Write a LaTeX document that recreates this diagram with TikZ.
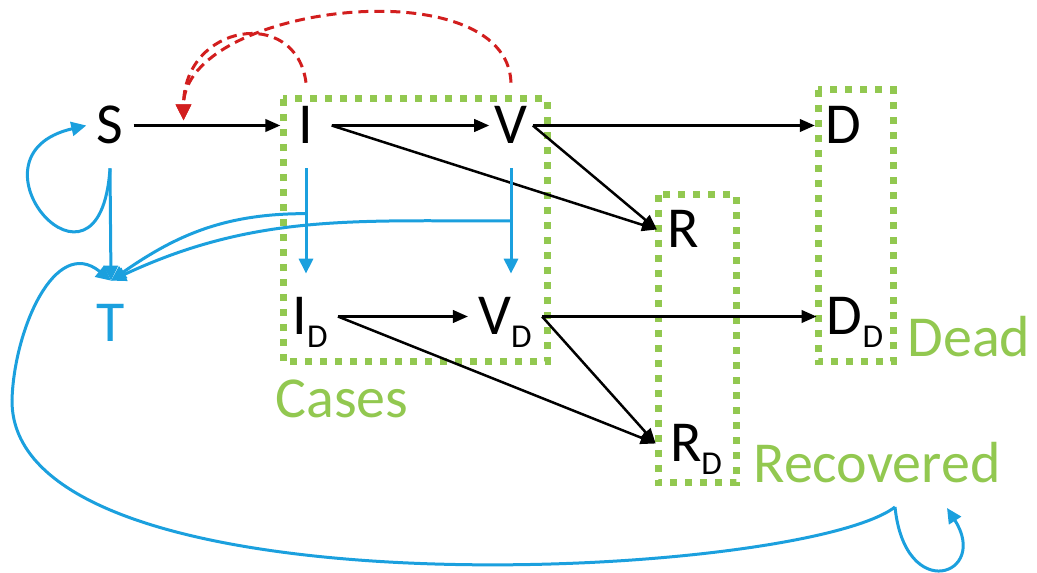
\documentclass[tikz,border=0pt]{standalone}
\usepackage{fontspec}
\setmainfont{Carlito}
\usetikzlibrary{calc,arrows.meta}
\definecolor{boxgreen}{RGB}{146,200,80}
\definecolor{testblue}{RGB}{27,160,222}
\definecolor{ctrlred}{RGB}{210,30,30}
\newcommand{\sbD}{\raisebox{-0.26cm}[0pt][0pt]{\fontsize{19pt}{19pt}\selectfont D}}
\tikzstyle{state}=[inner xsep=0.2cm, inner ysep=0.48cm, text height=0.74cm, text depth=0pt, anchor=base, font=\fontsize{33pt}{36pt}\selectfont]
\tikzstyle{grp}=[boxgreen, line width=0.14cm, dash pattern=on 0.14cm off 0.16cm]
\tikzstyle{lbl}=[boxgreen, inner sep=0pt, anchor=base, font=\fontsize{33pt}{36pt}\selectfont]
\tikzstyle{flow}=[line width=0.05cm, -{Triangle[length=0.3cm,width=0.25cm]}]
\tikzstyle{test}=[testblue, line width=0.06cm, -{Triangle[length=0.3cm,width=0.28cm]}]
\tikzstyle{ctrl}=[ctrlred, line width=0.06cm, dash pattern=on 0.2cm off 0.12cm, -{Triangle[length=0.32cm,width=0.3cm]}]

\begin{document}
\begin{tikzpicture}[x=0.02cm, y=-0.02cm]
		\useasboundingbox (0,0) rectangle (1037,573);
		%\draw[help lines, step=50] (0,0) grid (1037,573);
		
		\draw[grp] (283,99) rectangle (547,362);%cases
		\draw[grp] (818,90) rectangle (893,362);%dead
		\draw[grp] (658,195) rectangle (736,483);%recovered
		
		\node[state] (S) at (110,144) {S};
		\node[state, inner xsep=0.36cm] (I) at (306,144) {I};
		\node[state, inner xsep=0.1cm] (V) at (511,144) {V};
		\node[state] (D) at (843,144) {D};
		\node[state] (R) at (683,248) {R};
		\node[state, testblue] (T) at (111,342) {T};
		\node[state] (ID) at (310,335) {I\sbD};
		\node[state] (VD) at (505,335) {V\sbD};
		\node[state] (DD) at (855,335) {D\sbD};
		\node[state, inner xsep=0.28cm] (RD) at (696,462) {R\sbD};
		
		\node[lbl] (Cases) at (342,418) {Cases};
		\node[lbl] (Dead) at (969,357) {Dead};
		\node[lbl] (Rec) at (877,483) {Recovered};
		
		% black flows
		\draw[flow] (S) -- (I);
		\draw[flow] (I) -- (V);
		\draw[flow] (I.east) -- (R.west);
		\draw[flow] (V) -- (D);
		\draw[flow] (V.east) -- (R.west);
		\draw[flow] (ID) -- (VD);
		\draw[flow] (ID.east) -- (RD.west);
		\draw[flow] (VD) -- (DD);
		\draw[flow] (VD.east) -- (RD.west);
		
		% testing
		\draw[test] (S.south) -- (T.north);
		\draw[test] (I) -- (I |- ID.north);
		\draw[test] (V) -- (V |- VD.north);
		\coordinate (bI) at ($(I.south)!0.43!(I |- ID.north)$);
		\coordinate (bV) at ($(V.south)!0.5!(V |- VD.north)$);
		\draw[test] (bI) to[out=180, in=35] (T.north);
		\draw[test] (bV) to[out=180, in=25] (T.north);
		\draw[test] (S.south) .. controls +(-10,152) and +(-130,30) .. (S.west);%loop
		
		\coordinate (rc) at ($(Rec.base)+(18,24)$);
		\coordinate (rt) at ($(Rec.base)+(70,25)$);
		\draw[test] (rc) .. controls (800,580) and (10,620) .. (12,400)
		.. controls (14,330) and (55,235) .. (T.north);
		\draw[test] (rc) .. controls (905,605) and (990,575) .. (rt);%loop
		
		% feedback on infection
		\coordinate (hit) at ($(S.east)!0.34!(I.west)+(0,-5)$);
		\draw[ctrl] (I.north) .. controls +(-10,-77) and +(0,-97) .. (hit);
		\draw[ctrl] (V.north) to[out=92, in=90, looseness=0.9] (hit);
\end{tikzpicture}
\end{document}
